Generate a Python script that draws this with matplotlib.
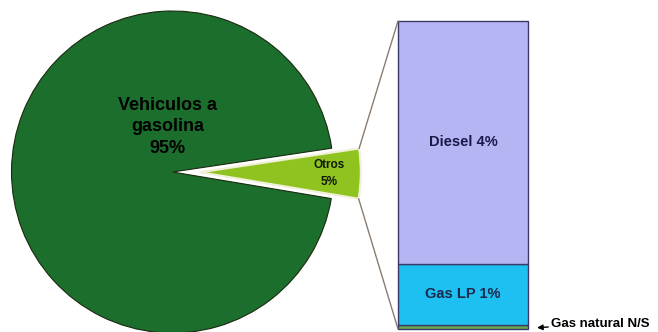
import numpy as np
import matplotlib.pyplot as plt
from matplotlib.patches import ConnectionPatch

plt.rcParams['font.family'] = ['Liberation Sans', 'DejaVu Sans']

# pie data
pie_labels = ['Otros\n5%', 'Vehiculos a\ngasolina\n95%']
pie_values = [5, 95]
pie_colors = ['#8fc31f', '#1c6e2c']

# stacked bar data (bottom to top)
bar_labels = ['Gas natural N/S', 'Gas LP 1%', 'Diesel 4%']
bar_values = [0.07, 1.0, 4.0]
bar_colors = ['#6aa84f', '#1ec0f2', '#b5b5f3']

W, H = 658, 332
fig = plt.figure(figsize=(W / 100, H / 100), dpi=100)

# pie axes: fixed pixel scale, centre at (172.5, 172)
cx, cy, r_px = 172.5, 172, 161
ax1 = fig.add_axes([0, 0, 400 / W, 1])

wedges, _ = ax1.pie(pie_values, colors=pie_colors, startangle=-9.5,
                    explode=[0.17, 0], radius=1,
                    wedgeprops=dict(edgecolor='#1a2a10', linewidth=0.8))
wedges[0].set_edgecolor('#f2f0d8')
wedges[0].set_linewidth(1.6)
ax1.set_aspect('auto')
ax1.set_xlim(-cx / r_px, (400 - cx) / r_px)
ax1.set_ylim(-(H - cy) / r_px, cy / r_px)
ax1.axis('off')

ax1.text(-0.03, 0.28, pie_labels[1], ha='center', va='center', fontsize=13,
         fontweight='bold', color='black', linespacing=1.35)
ax1.text(0.97, -0.01, pie_labels[0], ha='center', va='center', fontsize=8.5,
         fontweight='bold', color='#10180a', linespacing=1.6)

# bar axes
ax2 = fig.add_axes([398 / W, (H - 329) / H, 130 / W, 308 / H])
bottom = 0
for val, col in zip(bar_values, bar_colors):
    ax2.bar(0, val, width=1, bottom=bottom, color=col,
            edgecolor='#3a3a6a', linewidth=1.0, clip_on=False)
    bottom += val
ax2.set_xlim(-0.5, 0.5)
ax2.set_ylim(0, sum(bar_values))
ax2.axis('off')

ax2.text(0, bar_values[0] + bar_values[1] + bar_values[2] / 2,
         bar_labels[2], ha='center', va='center', fontsize=10.5,
         fontweight='bold', color='#1a1a4a')
ax2.text(0, bar_values[0] + bar_values[1] / 2, bar_labels[1],
         ha='center', va='center', fontsize=10.5, fontweight='bold',
         color='#1a2a4a')
ax2.annotate(bar_labels[0], xy=(0.57, bar_values[0] * 0.3),
             xytext=(10, 3), textcoords='offset points',
             ha='left', va='center', fontsize=9.5, fontweight='bold',
             annotation_clip=False,
             arrowprops=dict(arrowstyle='-|>', color='black', lw=1,
                             mutation_scale=8, shrinkA=0, shrinkB=0))

# connecting lines from Otros wedge to bar
w = wedges[0]
theta1, theta2 = w.theta1, w.theta2
center, rad = w.center, w.r
for theta, ybar in [(theta2, sum(bar_values)), (theta1, 0)]:
    x = rad * np.cos(np.radians(theta)) + center[0]
    y = rad * np.sin(np.radians(theta)) + center[1]
    con = ConnectionPatch(xyA=(-0.5, ybar), coordsA=ax2.transData,
                          xyB=(x, y), coordsB=ax1.transData)
    con.set_color('#8a7c70')
    con.set_linewidth(1.0)
    fig.add_artist(con)

fig.savefig('out.png', dpi=100, facecolor='white')
